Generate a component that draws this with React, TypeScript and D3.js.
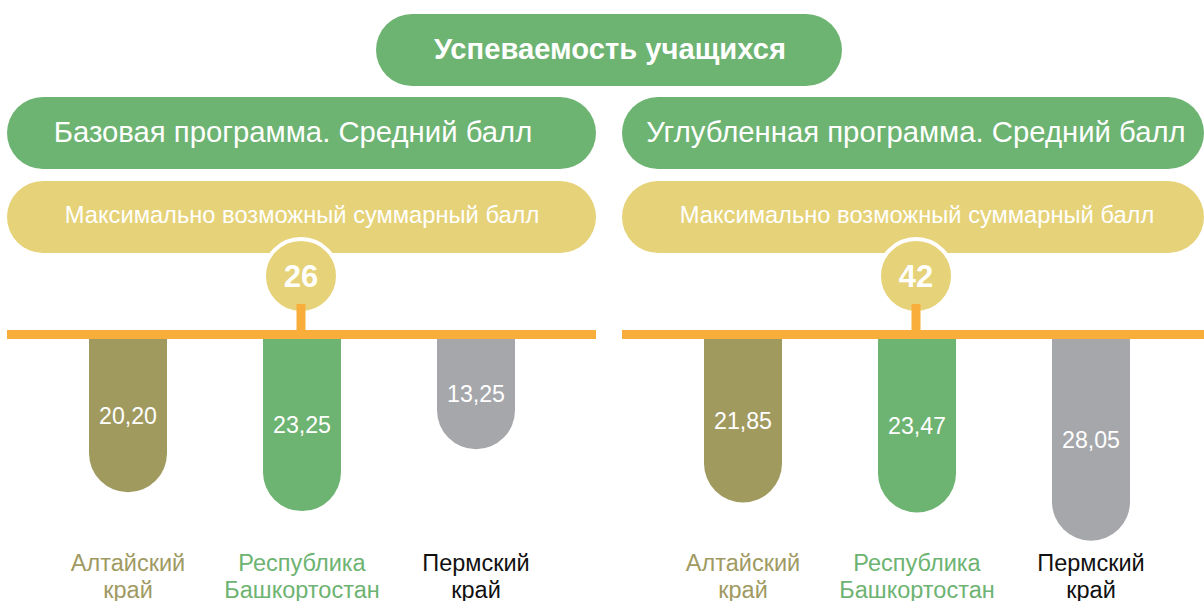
import React from "react";
import * as d3 from "d3";

// ---- data ----
const chartTitle = "Успеваемость учащихся";
const panelTitles = ["Базовая программа. Средний балл", "Углубленная программа. Средний балл"];
const maxLabel = "Максимально возможный суммарный балл";
const maxScores = [26, 42];
const categories = ["Алтайский край", "Республика Башкортостан", "Пермский край"];
const categoryLines = [["Алтайский", "край"], ["Республика", "Башкортостан"], ["Пермский", "край"]];
const baseValues = [20.2, 23.25, 13.25];
const advancedValues = [21.85, 23.47, 28.05];
const valueLabels = [["20,20", "23,25", "13,25"], ["21,85", "23,47", "28,05"]];

// ---- style ----
const GREEN = "#6db372";
const YELLOW = "#e6d278";
const ORANGE = "#f9ae3c";
const OLIVE = "#a09a5f";
const GRAY = "#a6a7ab";
const barColors = [OLIVE, GREEN, GRAY];
const catColors = ["#a09a62", "#6db372", "#111111"];
const FONT = "'Liberation Sans', Arial, sans-serif";

const W = 1204;
const H = 601;
const panels = [
  { x0: 7, x1: 596, values: baseValues, textShift: -8 },
  { x0: 622, x1: 1204, values: advancedValues, textShift: 0 },
];
const LINE_Y = 330;
const LINE_H = 9;
const BAR_TOP = LINE_Y + LINE_H;
const BAR_W = 78;

const hScale = d3.scaleLinear().domain([0, 30]).range([28.4, 213.8]);

function barPath(x: number, top: number, w: number, h: number) {
  const r = w / 2;
  const p = d3.path();
  p.moveTo(x, top);
  p.lineTo(x + w, top);
  p.lineTo(x + w, top + h - r);
  p.arc(x + r, top + h - r, r, 0, Math.PI, false);
  p.closePath();
  return p.toString();
}

export default function App() {
  return (
    <svg
      width={W}
      height={H}
      style={{ position: "absolute", left: 0, top: 0, display: "block" }}
      fontFamily={FONT}
    >
      <rect x={0} y={0} width={W} height={H} fill="#fff" />
      {/* title */}
      <rect x={376} y={14} width={466} height={72} rx={36} fill={GREEN} />
      <text x={610} y={59} textAnchor="middle" fill="#fff" fontSize={29.2} fontWeight="bold">
        {chartTitle}
      </text>
      {panels.map((pn, pi) => {
        const band = d3
          .scaleBand<string>()
          .domain(categories)
          .range([pn.x0 + 34, pn.x0 + 34 + 522])
          .padding(0);
        const cx = (band(categories[1]) as number) + band.bandwidth() / 2 - 1;
        return (
          <g key={pi}>
            <rect x={pn.x0} y={97} width={pn.x1 - pn.x0} height={72} rx={36} fill={GREEN} />
            <text x={cx + pn.textShift} y={142} textAnchor="middle" fill="#fff" fontSize={29.3}>
              {panelTitles[pi]}
            </text>
            <rect x={pn.x0} y={181} width={pn.x1 - pn.x0} height={72} rx={36} fill={YELLOW} />
            <text x={cx + 1} y={223} textAnchor="middle" fill="#fff" fontSize={23.7}>
              {maxLabel}
            </text>
            <circle cx={cx} cy={276} r={37} fill={YELLOW} stroke="#fff" strokeWidth={4} />
            <text x={cx} y={287} textAnchor="middle" fill="#fff" fontSize={31} fontWeight="bold">
              {maxScores[pi]}
            </text>
            <rect x={cx - 4.5} y={304} width={9} height={LINE_Y - 304} fill={ORANGE} />
            <rect x={pn.x0} y={LINE_Y} width={pn.x1 - pn.x0} height={LINE_H} fill={ORANGE} />
            {categories.map((c, i) => {
              const bx = (band(c) as number) + band.bandwidth() / 2;
              const h = hScale(pn.values[i]);
              return (
                <g key={c}>
                  <path d={barPath(bx - BAR_W / 2, BAR_TOP, BAR_W, h)} fill={barColors[i]} />
                  <text
                    x={bx}
                    y={BAR_TOP + h / 2}
                    dy="0.35em"
                    textAnchor="middle"
                    fill="#fff"
                    fontSize={23.2}
                  >
                    {valueLabels[pi][i]}
                  </text>
                  {categoryLines[i].map((ln, li) => (
                    <text
                      key={li}
                      x={bx}
                      y={571 + li * 27}
                      textAnchor="middle"
                      fill={catColors[i]}
                      fontSize={23.5}
                    >
                      {ln}
                    </text>
                  ))}
                </g>
              );
            })}
          </g>
        );
      })}
    </svg>
  );
}
